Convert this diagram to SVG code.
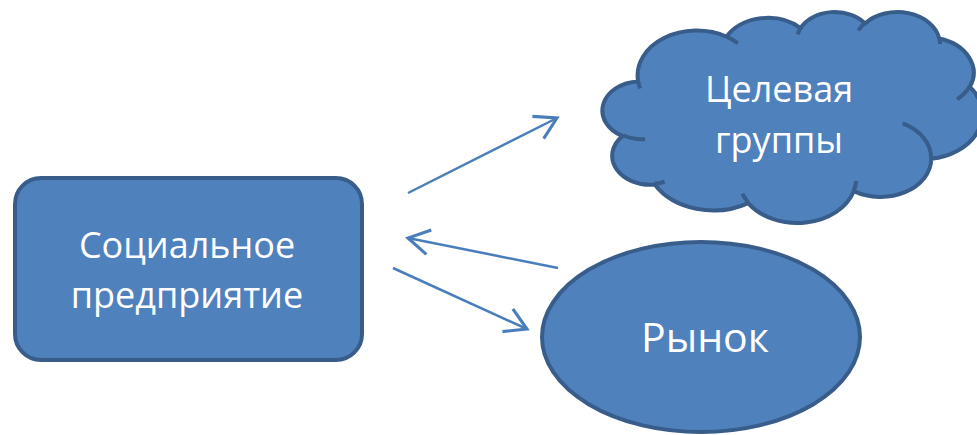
<svg xmlns="http://www.w3.org/2000/svg" width="977" height="435" viewBox="0 0 977 435">
  <style>
    .shape { fill: #4f81bd; stroke: #385d8a; stroke-width: 4; }
    .inner { fill: none; stroke: #385d8a; stroke-width: 4; }
    .label { fill: #ffffff; font-family: "Open Sans", "Noto Sans", "DejaVu Sans", sans-serif; font-size: 36px; text-anchor: middle; }
    .big { font-size: 41px; }
    .conn { fill: none; stroke: #4a7ebb; stroke-width: 2.5; }
  </style>
  <defs>
    <marker id="arr" markerUnits="userSpaceOnUse" markerWidth="30" markerHeight="30" viewBox="-20 -12 22 24" refX="0" refY="0" orient="auto" overflow="visible">
      <path d="M -17,-10 L 0,0 L -17,10" fill="none" stroke="#4a7ebb" stroke-width="2.5" stroke-linejoin="miter"/>
    </marker>
  </defs>
  <rect width="977" height="435" fill="#ffffff"/>

  <g id="social-enterprise">
    <rect class="shape" x="15" y="178" width="347" height="182" rx="26" ry="26"/>
    <text class="label" x="187" y="258">Социальное</text>
    <text class="label" x="187" y="308">предприятие</text>
  </g>

  <g id="target-groups">
    <g transform="translate(604,11.3) scale(0.00875,0.004884)">
      <path class="shape" vector-effect="non-scaling-stroke" d="M 3900 14370 A 6753 9190 0 0 1 14005 5202 A 5333 7267 0 0 1 22455 3434 A 4365 5945 0 0 1 29832 2483 A 4857 6595 0 0 1 38317 5578 A 5333 7273 0 0 1 41818 15461 A 6775 9220 0 0 1 37404 30205 A 5785 7867 0 0 1 28555 36815 A 6752 9215 0 0 1 16480 39266 A 7720 10543 0 0 1 5804 35472 A 4360 5918 0 0 1 2113 25550 A 4345 5945 0 0 1 3900 14370 Z"/>
      <path class="inner" vector-effect="non-scaling-stroke" d="M 4693 26177 A 4345 5945 0 0 1 2160 25380 M 6928 34899 A 4360 5918 0 0 1 5819 35281 M 16478 39090 A 6752 9215 0 0 1 15810 37350 M 28827 34751 A 6752 9215 0 0 1 28560 36660 M 34129 22954 A 5785 7867 0 0 1 37380 30089 M 41798 15354 A 5333 7273 0 0 1 40350 18030 M 38324 5426 A 4857 6595 0 0 1 38400 6690 M 29078 3952 A 4857 6595 0 0 1 29820 2341 M 22141 4720 A 4365 5945 0 0 1 22500 3329 M 14000 5192 A 6753 9190 0 0 1 15300 6540 M 4127 15789 A 6753 9190 0 0 1 3900 14371"/>
    </g>
    <text class="label" x="779" y="102">Целевая</text>
    <text class="label" x="779" y="153">группы</text>
  </g>

  <g id="market">
    <ellipse class="shape" cx="701" cy="337" rx="159" ry="95"/>
    <text class="label big" x="705" y="352">Рынок</text>
  </g>

  <g id="connectors">
    <line class="conn" x1="408" y1="193" x2="557" y2="118" marker-end="url(#arr)"/>
    <line class="conn" x1="558" y1="268" x2="408" y2="238" marker-end="url(#arr)"/>
    <line class="conn" x1="393" y1="268" x2="527" y2="329" marker-end="url(#arr)"/>
  </g>
</svg>
